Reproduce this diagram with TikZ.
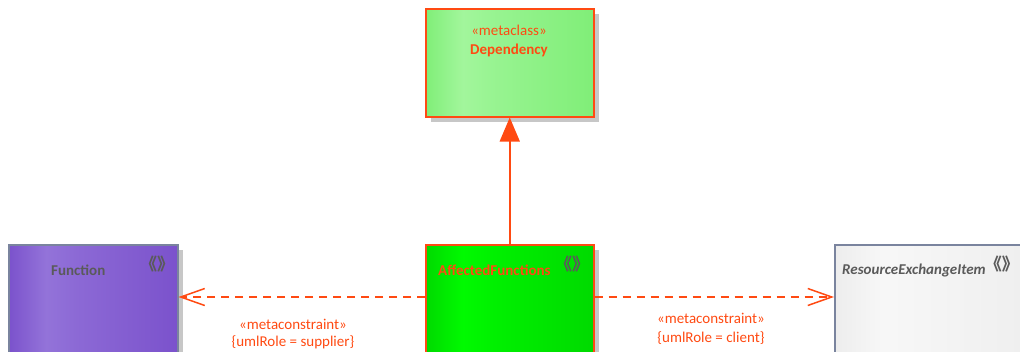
\documentclass[tikz,border=0pt]{standalone}
\usepackage{fontspec}
\setmainfont{Carlito}
\newfontfamily\cjkfont{Noto Sans CJK SC}
\usepackage{tikz}
\usetikzlibrary{arrows.meta, positioning, shadows}
\definecolor{umlorange}{HTML}{FF4A12}
\definecolor{umlgrey}{HTML}{5A5A5A}
\definecolor{funcpurple}{HTML}{7B52CC}
\definecolor{funclight}{HTML}{9373D9}
\definecolor{affgreen}{HTML}{00DA00}
\definecolor{afflight}{HTML}{00FA00}
\definecolor{depgreen}{HTML}{80EE78}
\definecolor{deplight}{HTML}{A2F69C}
\definecolor{itemgrey}{HTML}{EDEDED}
\definecolor{itemborder}{HTML}{7A849E}
\pgfdeclareverticalshading{funcband}{100bp}{color(0bp)=(funcpurple); color(25bp)=(funcpurple); color(55bp)=(funclight!70!funcpurple); color(64bp)=(funclight); color(75bp)=(funcpurple); color(100bp)=(funcpurple)}
\pgfdeclareverticalshading{affband}{100bp}{color(0bp)=(affgreen); color(25bp)=(affgreen); color(55bp)=(afflight!70!affgreen); color(64bp)=(afflight); color(75bp)=(affgreen); color(100bp)=(affgreen)}
\pgfdeclareverticalshading{depband}{100bp}{color(0bp)=(depgreen); color(25bp)=(depgreen); color(55bp)=(deplight!70!depgreen); color(64bp)=(deplight); color(75bp)=(depgreen); color(100bp)=(depgreen)}
\pgfdeclareverticalshading{itemband}{100bp}{color(0bp)=(itemgrey); color(25bp)=(itemgrey); color(64bp)=(white!97!black); color(75bp)=(itemgrey); color(100bp)=(itemgrey)}
\tikzset{
  metabox/.style={draw, line width=1.5pt, anchor=north west, inner sep=0pt, shading angle=90,
    drop shadow={shadow xshift=5pt, shadow yshift=-5pt, fill=black!22, opacity=1}},
  boxtext/.style={font=\fontsize{15}{17}\selectfont, inner sep=0pt},
  boldtext/.style={font=\fontsize{15}{17}\selectfont\bfseries, inner sep=0pt},
  stereoicon/.style={font=\cjkfont\bfseries\fontsize{17}{18}\selectfont, text=umlgrey, inner sep=0pt},
  roletext/.style={font=\fontsize{15}{17}\selectfont, text=umlorange, inner sep=0pt},
  constraint/.style={draw=umlorange, line width=1.5pt, dash pattern=on 8pt off 6pt,
    -{Straight Barb[length=24pt, width=17pt, line width=1.5pt]}},
}

\begin{document}
\begin{tikzpicture}[x=1pt, y=-1pt]
    \useasboundingbox (0,0) rectangle (1020,351);
    \clip (0,0) rectangle (1020,351);

    % metaclass
    \node[metabox, draw=umlorange, shading=depband, shading angle=90,
      minimum width=168pt, minimum height=108pt] (dependency) at (425,8) {};
    \node[boxtext, text=umlorange] (depstereo) at (509,30) {«metaclass»};
    \node[boldtext, text=umlorange] (depname) at (509,50) {Dependency};

    % stereotyped classes
    \node[metabox, draw=itemborder, shading=funcband, shading angle=90,
      minimum width=169pt, minimum height=140pt] (function) at (8,244) {};
    \node[boldtext, text=umlgrey, anchor=west] (funcname) at (51,270) {Function};
    \node[stereoicon] (funcicon) at (157,264) {《》};

    \node[metabox, draw=umlorange, shading=affband, shading angle=90,
      minimum width=168pt, minimum height=140pt] (affected) at (425,244) {};
    \node[boldtext, text=umlorange, anchor=west] (affname) at (438,270) {AffectedFunctions};
    \node[stereoicon] (afficon) at (572,264) {《》};

    \node[metabox, draw=itemborder, shading=itemband, shading angle=90,
      minimum width=220pt, minimum height=140pt] (item) at (834,244) {};
    \node[boldtext, text=umlgrey, font=\fontsize{15}{17}\selectfont\bfseries\itshape, anchor=west] (itemname) at (842,270) {ResourceExchangeItem};
    \node[stereoicon, anchor=east] (itemicon) at (1019,264) {《》};

    % generalization
    \draw[umlorange, line width=1.5pt, -{Triangle[length=24pt, width=20pt]}] (affected.north) -- (dependency.south);

    % metaconstraints
    \coordinate (affleft) at (affected.west |- 0,297);
    \coordinate (affright) at (affected.east |- 0,297);
    \draw[constraint] (affleft) -- (function.east |- affleft);
    \draw[constraint] (affright) -- (item.west |- affright);

    \node[roletext] (supstereo) at (293,324) {«metaconstraint»};
    \node[roletext] (suprole) at (293,342) {\{umlRole = supplier\}};
    \node[roletext] (clistereo) at (711,318) {«metaconstraint»};
    \node[roletext] (clirole) at (711,338) {\{umlRole = client\}};
\end{tikzpicture}
\end{document}
